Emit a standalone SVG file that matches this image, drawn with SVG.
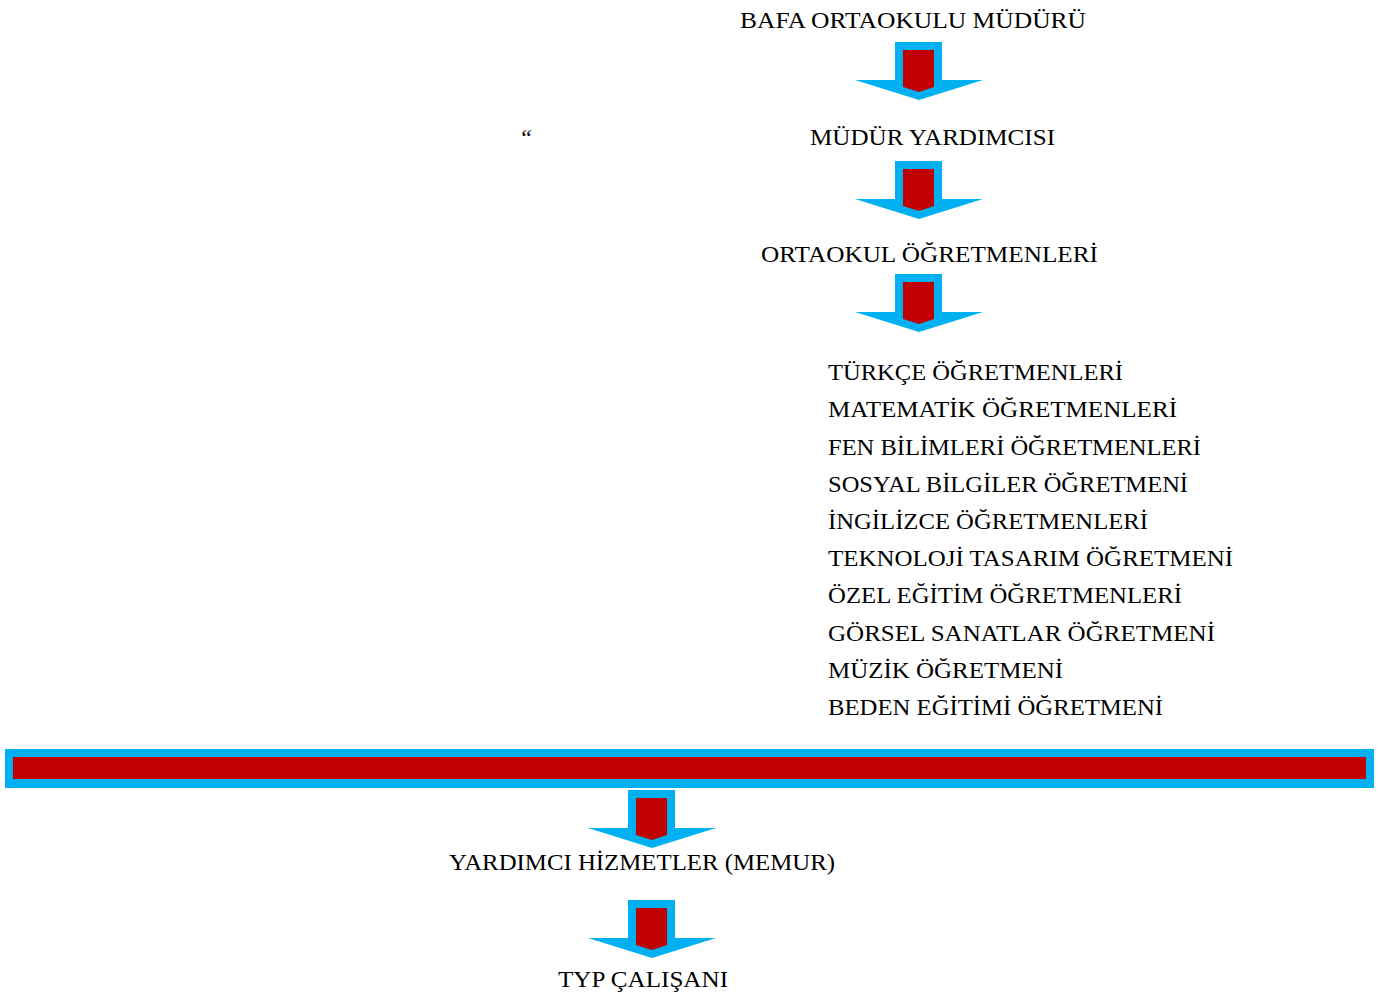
<svg xmlns="http://www.w3.org/2000/svg" xmlns:xlink="http://www.w3.org/1999/xlink" width="1384" height="993" viewBox="0 0 1384 993">
<style>
text{font-family:"Liberation Serif","Times New Roman",serif;font-size:23.5px;fill:#000}
.blue{fill:#00B0F0}
.red{fill:#C00000}
</style>
<defs>
<g id="arrow">
<polygon class="blue" points="-24,0 23,0 23,38 64,38 0,58 -64,38 -24,38"/>
<polygon class="red" points="-16,8 15,8 15,45 0,50 -16,45"/>
</g>
</defs>
<rect width="1384" height="993" fill="#fff"/>
<g id="connectors">
<use xlink:href="#arrow" transform="translate(919,42)"/>
<use xlink:href="#arrow" transform="translate(919,161)"/>
<use xlink:href="#arrow" transform="translate(919,274)"/>
<use xlink:href="#arrow" transform="translate(652,790)"/>
<use xlink:href="#arrow" transform="translate(652,900)"/>
</g>
<g id="bar">
<rect class="blue" x="5" y="749" width="1369" height="39"/>
<rect class="red" x="13" y="757" width="1353" height="22"/>
</g>
<g id="mudur"><text x="740" y="28" textLength="346" lengthAdjust="spacingAndGlyphs">BAFA ORTAOKULU MÜDÜRÜ</text></g>
<g id="quote"><text x="519" y="146" font-style="italic">“</text></g>
<g id="mudur-yardimcisi"><text x="810" y="145" textLength="245" lengthAdjust="spacingAndGlyphs">MÜDÜR YARDIMCISI</text></g>
<g id="ortaokul-ogretmenleri"><text x="761" y="262" textLength="337" lengthAdjust="spacingAndGlyphs">ORTAOKUL ÖĞRETMENLERİ</text></g>
<g id="brans-listesi">
<text x="828" y="380" textLength="295" lengthAdjust="spacingAndGlyphs">TÜRKÇE ÖĞRETMENLERİ</text>
<text x="828" y="417" textLength="349" lengthAdjust="spacingAndGlyphs">MATEMATİK ÖĞRETMENLERİ</text>
<text x="828" y="455" textLength="373" lengthAdjust="spacingAndGlyphs">FEN BİLİMLERİ ÖĞRETMENLERİ</text>
<text x="828" y="492" textLength="360" lengthAdjust="spacingAndGlyphs">SOSYAL BİLGİLER ÖĞRETMENİ</text>
<text x="828" y="529" textLength="320" lengthAdjust="spacingAndGlyphs">İNGİLİZCE ÖĞRETMENLERİ</text>
<text x="828" y="566" textLength="405" lengthAdjust="spacingAndGlyphs">TEKNOLOJİ TASARIM ÖĞRETMENİ</text>
<text x="828" y="603" textLength="354" lengthAdjust="spacingAndGlyphs">ÖZEL EĞİTİM ÖĞRETMENLERİ</text>
<text x="828" y="641" textLength="387" lengthAdjust="spacingAndGlyphs">GÖRSEL SANATLAR ÖĞRETMENİ</text>
<text x="828" y="678" textLength="235" lengthAdjust="spacingAndGlyphs">MÜZİK ÖĞRETMENİ</text>
<text x="828" y="715" textLength="335" lengthAdjust="spacingAndGlyphs">BEDEN EĞİTİMİ ÖĞRETMENİ</text>
</g>
<g id="yardimci-hizmetler"><text x="449" y="870" textLength="386" lengthAdjust="spacingAndGlyphs">YARDIMCI HİZMETLER (MEMUR)</text></g>
<g id="typ-calisani"><text x="558" y="987" textLength="170" lengthAdjust="spacingAndGlyphs">TYP ÇALIŞANI</text></g>
</svg>
